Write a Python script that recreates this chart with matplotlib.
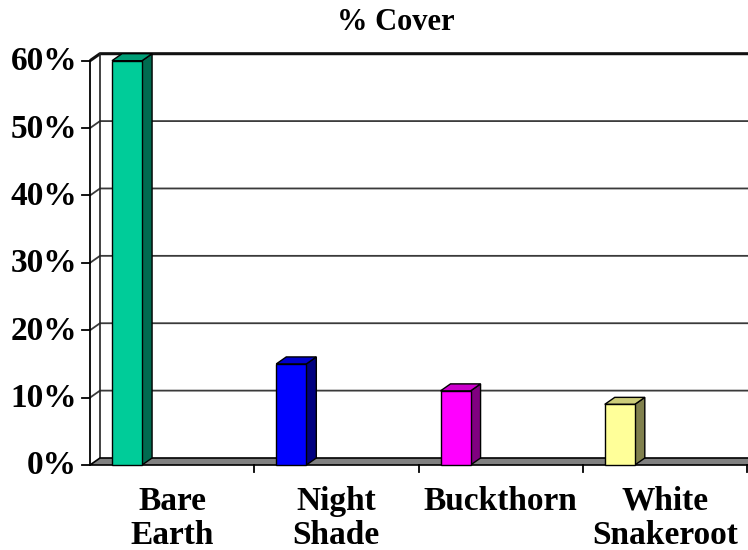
import matplotlib
matplotlib.use("Agg")
import matplotlib.pyplot as plt
from matplotlib.patches import Polygon
from matplotlib.transforms import IdentityTransform

categories = ["Bare\nEarth", "Night\nShade", "Buckthorn", "White\nSnakeroot"]
values = [0.60, 0.15, 0.11, 0.09]
tick_values = [0.0, 0.1, 0.2, 0.3, 0.4, 0.5, 0.6]
tick_labels = ["0%", "10%", "20%", "30%", "40%", "50%", "60%"]
title = "% Cover"

front_colors = ["#00CC99", "#0000FF", "#FF00FF", "#FFFF99"]
side_colors = ["#006B50", "#000080", "#800080", "#80804D"]
top_colors = ["#009E76", "#0000CC", "#CC00CC", "#CCCC7A"]

FONT = "Liberation Serif"
W, H, DPI = 748, 550, 100
DX, DY = 10, 7          # depth offset of the back plane, in pixels
BAR_OFF, BAR_W = 0.134, 0.183

fig = plt.figure(figsize=(W / DPI, H / DPI), dpi=DPI)
ax = fig.add_axes([90 / W, (H - 465) / H, (747 - 90) / W, (465 - 60.7) / H])
ax.set_xlim(0, len(categories))
ax.set_ylim(0, 0.6)
ax.axis("off")

ident = IdentityTransform()


def px(x, y, depth=0.0):
    X, Y = ax.transData.transform((x, y))
    return (X + DX * depth, Y + DY * depth)


def poly(pts, fc, ec="black", lw=1.0, z=2):
    p = Polygon(pts, closed=True, facecolor=fc, edgecolor=ec, linewidth=lw,
                transform=ident, clip_on=False, zorder=z, joinstyle="miter")
    ax.add_patch(p)


n = len(categories)
xmax_px = W + 20

# back wall gridlines with their short diagonal on the side wall
for v in tick_values[1:]:
    x0, y0 = px(0, v)
    x1, y1 = px(0, v, 1)
    top = v == tick_values[-1]
    lw = 2.2 if top else 1.3
    col = "#111111" if top else "#3a3a3a"
    ax.plot([x0, x1, xmax_px], [y0, y1, y1], color=col, lw=lw,
            transform=ident, clip_on=False, zorder=1, solid_capstyle="butt")

# side wall back edge and front value axis
bx0, by0 = px(0, 0, 1)
bx1, by1 = px(0, 0.6, 1)
ax.plot([bx0, bx1], [by0, by1], color="#222222", lw=1.2, transform=ident,
        clip_on=False, zorder=1)
fx0, fy0 = px(0, 0)
fx1, fy1 = px(0, 0.6)
ax.plot([fx0, fx1], [fy0, fy1], color="black", lw=1.3, transform=ident,
        clip_on=False, zorder=3)

# floor
poly([px(0, 0), (xmax_px, px(0, 0)[1]), (xmax_px, px(0, 0, 1)[1]), px(0, 0, 1)],
     fc="#808080", ec="black", lw=1.2, z=1.5)

# value axis ticks and labels
for v, lab in zip(tick_values, tick_labels):
    x, y = px(0, v)
    ax.plot([x - 8, x], [y, y], color="black", lw=1.3, transform=ident,
            clip_on=False, zorder=3)
    ax.text(x - 13, y - 1, lab, transform=ident, ha="right", va="center",
            fontsize=24, fontweight="bold", family=FONT, zorder=3)

# category ticks below the floor edge
for i in range(1, n + 1):
    x, y = px(i, 0)
    ax.plot([x, x], [y, y - 7], color="black", lw=1.3, transform=ident,
            clip_on=False, zorder=3)

# bars: front face, right side and top
for i, v in enumerate(values):
    xl = i + BAR_OFF
    xr = xl + BAR_W
    poly([px(xr, 0), px(xr, 0, 1), px(xr, v, 1), px(xr, v)], side_colors[i], z=4)
    poly([px(xl, v), px(xr, v), px(xr, v, 1), px(xl, v, 1)], top_colors[i], z=4)
    poly([px(xl, 0), px(xr, 0), px(xr, v), px(xl, v)], front_colors[i], z=5)

# category labels
for i, lab in enumerate(categories):
    x, y = px(i + 0.5, 0)
    ax.text(x, y - 21, lab, transform=ident, ha="center", va="top",
            fontsize=24, fontweight="bold", family=FONT, linespacing=1.12,
            zorder=3)

fig.text(396 / W, 1 - 23 / H, title, ha="center", va="center", fontsize=22,
         fontweight="bold", family=FONT)

fig.savefig("out.png", dpi=DPI)
